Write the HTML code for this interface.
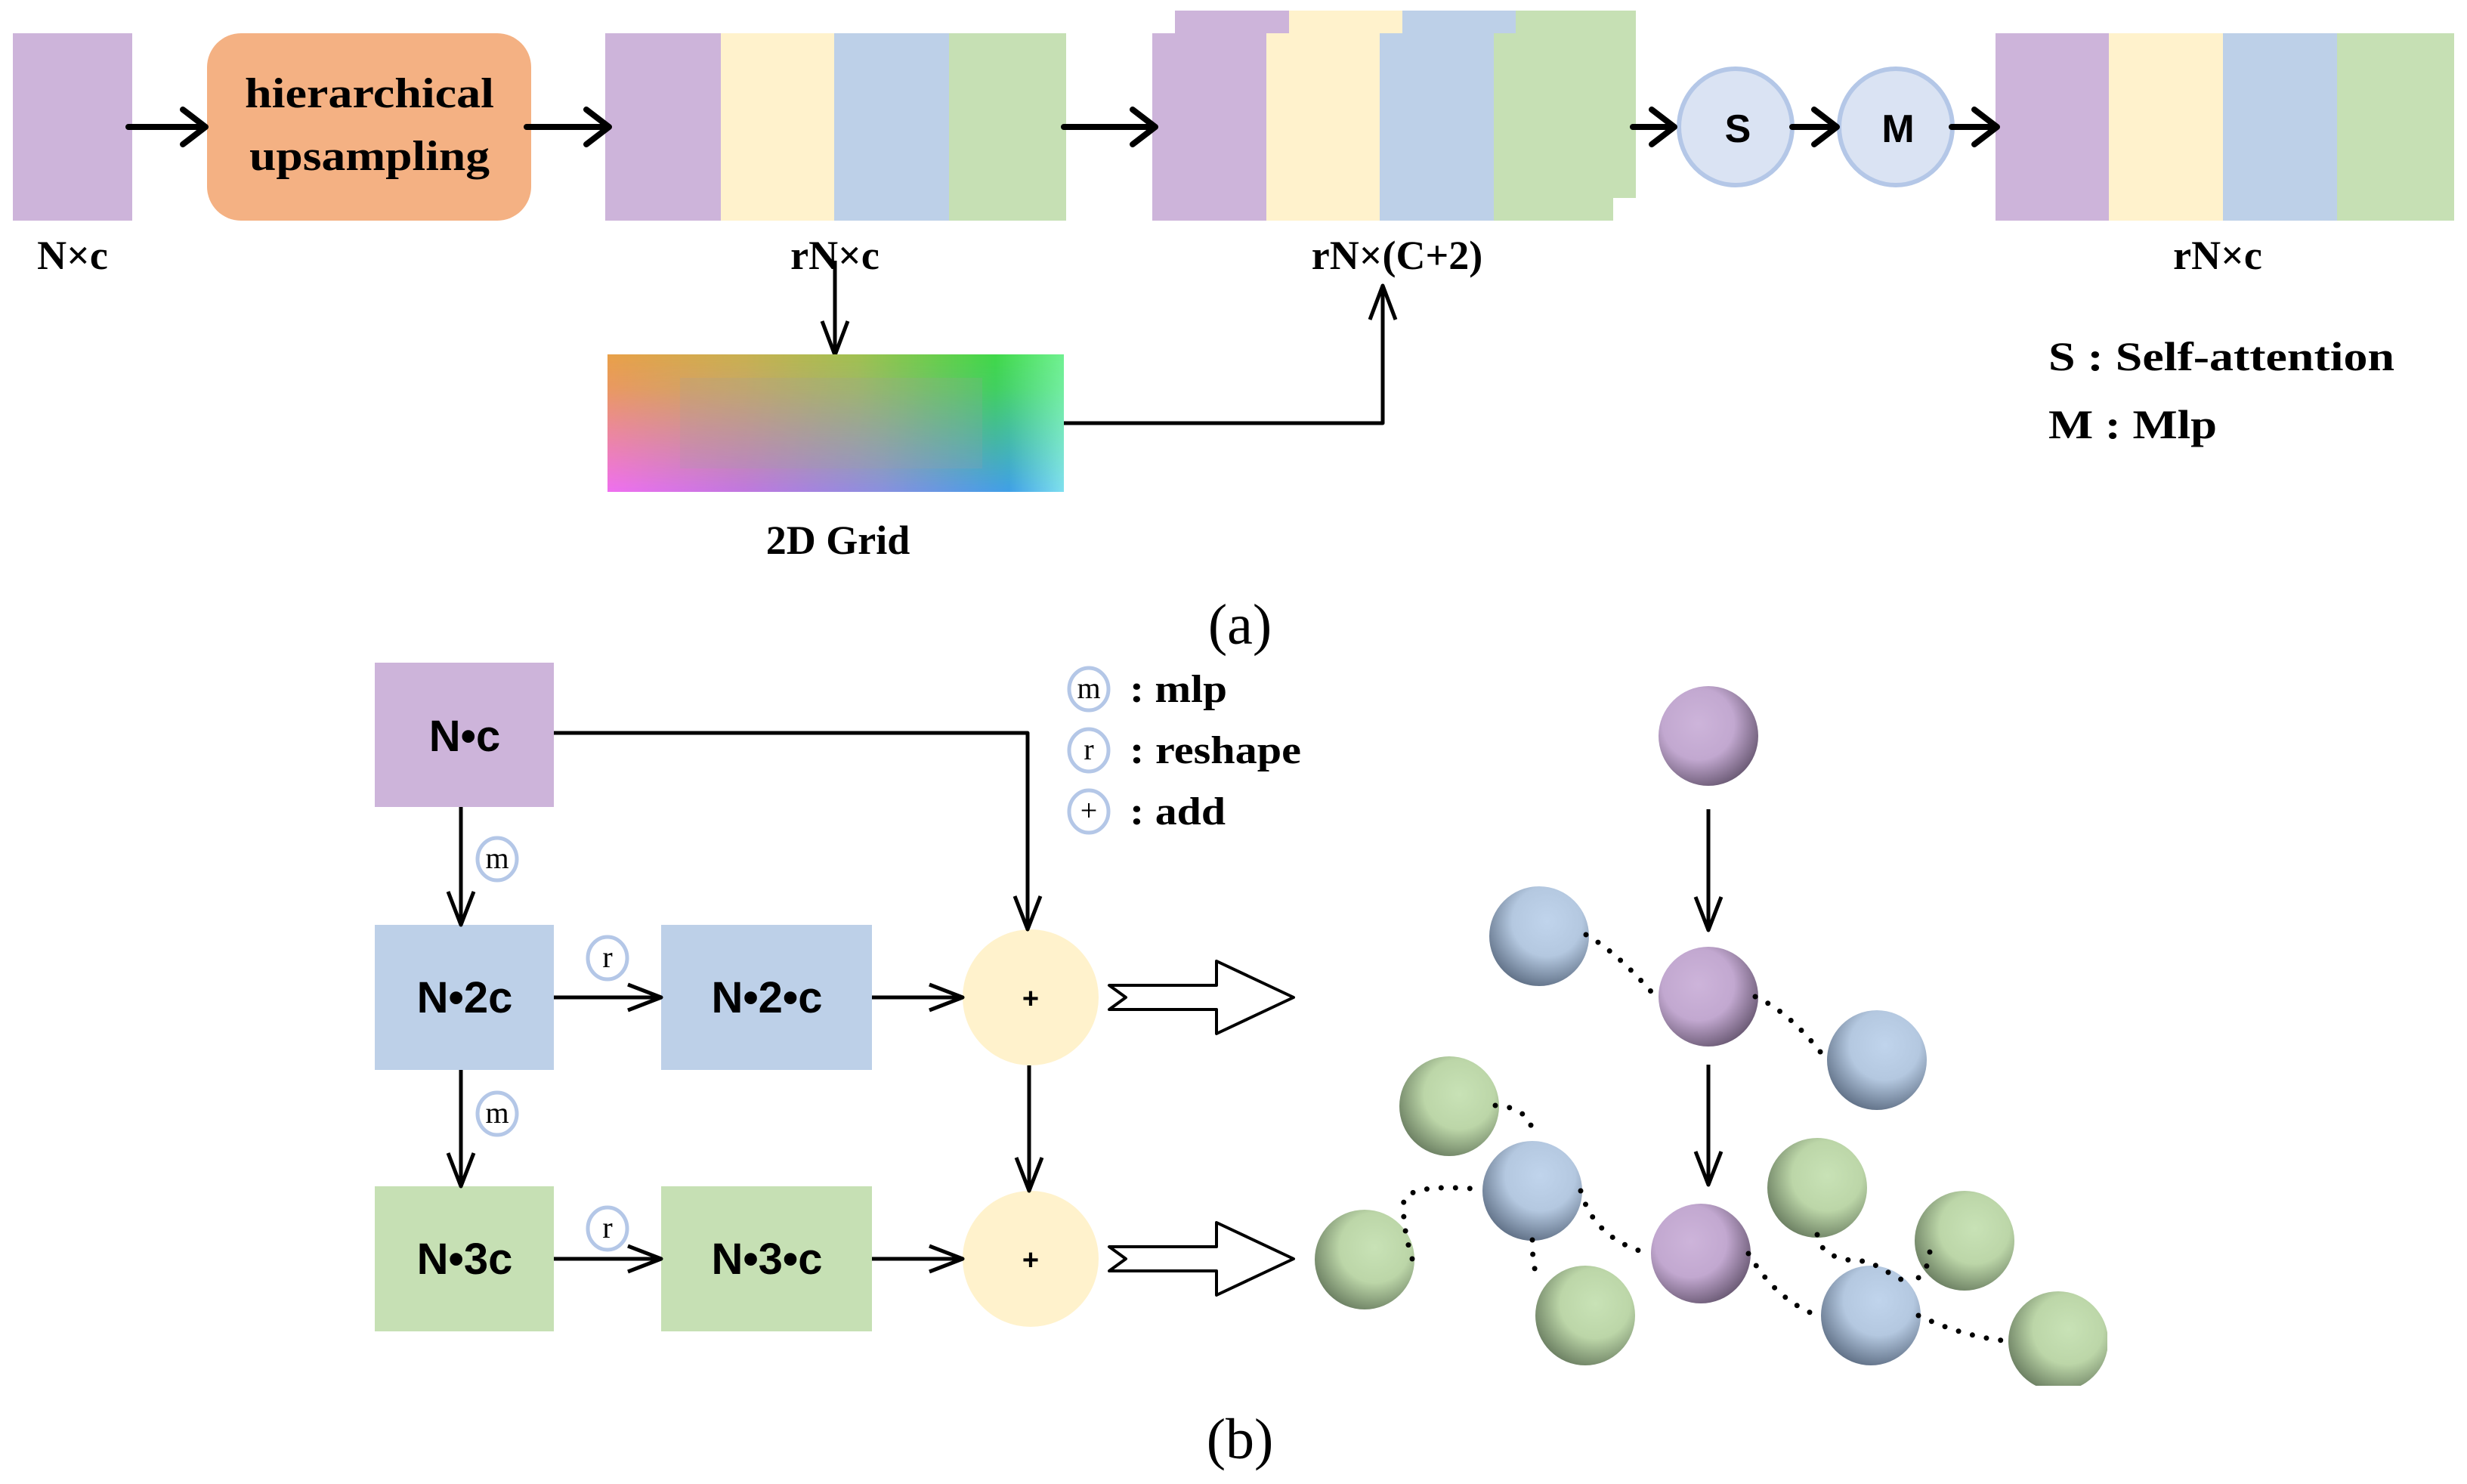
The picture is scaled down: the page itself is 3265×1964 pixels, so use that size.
<!DOCTYPE html>
<html><head><meta charset="utf-8"><style>
html,body{margin:0;padding:0;background:#fff;}
svg{display:block;}
.sb{font-family:"Liberation Serif",serif;font-weight:bold;fill:#000;}
.sr{font-family:"Liberation Serif",serif;fill:#000;}
.ss{font-family:"Liberation Sans",sans-serif;font-weight:bold;fill:#000;}
</style></head><body>
<svg width="3265" height="1964" viewBox="0 0 3265 1964" xmlns="http://www.w3.org/2000/svg">
<defs>
<linearGradient id="gtop" x1="0" x2="1" y1="0" y2="0">
<stop offset="0" stop-color="#e8a048"/><stop offset="0.3" stop-color="#c8b050"/><stop offset="0.55" stop-color="#a0c050"/><stop offset="0.85" stop-color="#40d848"/><stop offset="1" stop-color="#70f090"/></linearGradient>
<linearGradient id="gbot" x1="0" x2="1" y1="0" y2="0">
<stop offset="0" stop-color="#f070f0"/><stop offset="0.3" stop-color="#c078e0"/><stop offset="0.6" stop-color="#8a90e0"/><stop offset="0.88" stop-color="#40a0e8"/><stop offset="1" stop-color="#80e0f0"/></linearGradient>
<linearGradient id="vfade" x1="0" x2="0" y1="0" y2="1"><stop offset="0" stop-color="#fff"/><stop offset="0.25" stop-color="#fff" stop-opacity="0.85"/><stop offset="1" stop-color="#fff" stop-opacity="0"/></linearGradient>
<mask id="mfade"><rect x="804" y="469" width="604" height="182" fill="url(#vfade)"/></mask>
<radialGradient id="sp" cx="0.4" cy="0.38" r="0.65"><stop offset="0" stop-color="#cdb4da"/><stop offset="0.55" stop-color="#c2a8d0"/><stop offset="1" stop-color="#6e5d78"/></radialGradient>
<radialGradient id="sb" cx="0.58" cy="0.35" r="0.7"><stop offset="0" stop-color="#c0d4ec"/><stop offset="0.5" stop-color="#b4c8e0"/><stop offset="1" stop-color="#5a6a80"/></radialGradient>
<radialGradient id="sg" cx="0.6" cy="0.38" r="0.7"><stop offset="0" stop-color="#c8e2b6"/><stop offset="0.5" stop-color="#bcd6a8"/><stop offset="1" stop-color="#62755a"/></radialGradient>
<clipPath id="clipR"><rect x="0" y="0" width="2789" height="1834"/></clipPath>
</defs>

<rect x="17" y="44" width="158" height="248" fill="#cdb4da"/>
<rect x="274" y="44" width="429" height="248" rx="45" fill="#f4b183"/>
<text class="sb" x="489" y="142" font-size="56" text-anchor="middle" textLength="330" lengthAdjust="spacingAndGlyphs">hierarchical</text>
<text class="sb" x="489" y="225" font-size="56" text-anchor="middle" textLength="318" lengthAdjust="spacingAndGlyphs">upsampling</text>

<rect x="801" y="44" width="153" height="248" fill="#cdb4da"/>
<rect x="954" y="44" width="150" height="248" fill="#fff2cc"/>
<rect x="1104" y="44" width="152" height="248" fill="#bdd0e8"/>
<rect x="1256" y="44" width="155" height="248" fill="#c6e0b4"/>

<rect x="1555" y="14" width="152" height="248" fill="#cdb4da"/>
<rect x="1706" y="14" width="151" height="248" fill="#fff2cc"/>
<rect x="1856" y="14" width="151" height="248" fill="#bdd0e8"/>
<rect x="2006" y="14" width="159" height="248" fill="#c6e0b4"/>
<rect x="1525" y="44" width="152" height="248" fill="#cdb4da"/>
<rect x="1676" y="44" width="151" height="248" fill="#fff2cc"/>
<rect x="1826" y="44" width="151" height="248" fill="#bdd0e8"/>
<rect x="1977" y="44" width="158" height="248" fill="#c6e0b4"/>

<ellipse cx="2297" cy="168" rx="75" ry="77" fill="#dae3f3" stroke="#b4c7e7" stroke-width="6"/>
<ellipse cx="2509" cy="168" rx="75" ry="77" fill="#dae3f3" stroke="#b4c7e7" stroke-width="6"/>
<text class="ss" x="2300" y="188" font-size="52" text-anchor="middle">S</text>
<text class="ss" x="2512" y="188" font-size="52" text-anchor="middle">M</text>

<rect x="2641" y="44" width="150" height="248" fill="#cdb4da"/>
<rect x="2791" y="44" width="151" height="248" fill="#fff2cc"/>
<rect x="2942" y="44" width="151" height="248" fill="#bdd0e8"/>
<rect x="3093" y="44" width="155" height="248" fill="#c6e0b4"/>

<g stroke="#000" stroke-width="8" fill="none" stroke-linecap="round" stroke-linejoin="round">
<path d="M170,168 H272 M242,145 L272,168 L242,191"/>
<path d="M697,168 H806 M776,145 L806,168 L776,191"/>
<path d="M1408,168 H1529 M1499,145 L1529,168 L1499,191"/>
<path d="M2161,168 H2216 M2186,145 L2216,168 L2186,191"/>
<path d="M2372,168 H2431 M2401,145 L2431,168 L2401,191"/>
<path d="M2583,168 H2643 M2613,145 L2643,168 L2613,191"/>
</g>
<g stroke="#000" stroke-width="5" fill="none" stroke-linejoin="round">
<path d="M1105,345 V468 M1088,425 L1105,470 L1122,425"/>
<path d="M1408,560 H1830 V380 M1813,423 L1830,378 L1847,423"/>
</g>

<rect x="804" y="469" width="604" height="182" fill="url(#gbot)"/>
<rect x="804" y="469" width="604" height="182" fill="url(#gtop)" mask="url(#mfade)"/>
<rect x="900" y="500" width="400" height="120" fill="#a0a0a0" opacity="0.18"/>

<text class="sb" x="96" y="356" font-size="54" text-anchor="middle">N×c</text>
<text class="sb" x="1105" y="356" font-size="54" text-anchor="middle">rN×c</text>
<text class="sb" x="1849" y="356" font-size="54" text-anchor="middle">rN×(C+2)</text>
<text class="sb" x="2935" y="356" font-size="54" text-anchor="middle">rN×c</text>
<text class="sb" x="1109" y="733" font-size="54" text-anchor="middle">2D Grid</text>
<text class="sb" x="2711" y="490" font-size="54" textLength="458" lengthAdjust="spacingAndGlyphs">S : Self-attention</text>
<text class="sb" x="2711" y="580" font-size="54" textLength="223" lengthAdjust="spacingAndGlyphs">M : Mlp</text>
<text class="sr" x="1641" y="852" font-size="76" text-anchor="middle">(a)</text>

<rect x="496" y="877" width="237" height="191" fill="#cdb4da"/>
<rect x="496" y="1224" width="237" height="192" fill="#bdd0e8"/>
<rect x="875" y="1224" width="279" height="192" fill="#bdd0e8"/>
<rect x="496" y="1570" width="237" height="192" fill="#c6e0b4"/>
<rect x="875" y="1570" width="279" height="192" fill="#c6e0b4"/>
<circle cx="1364" cy="1320" r="90" fill="#fff2cc"/>
<circle cx="1364" cy="1666" r="90" fill="#fff2cc"/>
<text class="ss" x="1364" y="1334" font-size="38" text-anchor="middle">+</text>
<text class="ss" x="1364" y="1680" font-size="38" text-anchor="middle">+</text>

<text class="ss" x="615" y="994" font-size="58" text-anchor="middle">N•c</text>
<text class="ss" x="615" y="1340" font-size="58" text-anchor="middle">N•2c</text>
<text class="ss" x="1015" y="1340" font-size="58" text-anchor="middle">N•2•c</text>
<text class="ss" x="615" y="1686" font-size="58" text-anchor="middle">N•3c</text>
<text class="ss" x="1015" y="1686" font-size="58" text-anchor="middle">N•3•c</text>

<g stroke="#000" stroke-width="5" fill="none" stroke-linejoin="round">
<path d="M610,1068 V1222 M593,1180 L610,1224 L627,1180"/>
<path d="M610,1416 V1568 M593,1526 L610,1570 L627,1526"/>
<path d="M733,1320 H873 M831,1303 L875,1320 L831,1337"/>
<path d="M733,1666 H873 M831,1649 L875,1666 L831,1683"/>
<path d="M1154,1320 H1272 M1230,1303 L1274,1320 L1230,1337"/>
<path d="M1154,1666 H1272 M1230,1649 L1274,1666 L1230,1683"/>
<path d="M733,970 H1360 V1228 M1343,1186 L1360,1230 L1377,1186"/>
<path d="M1362,1410 V1574 M1345,1532 L1362,1576 L1379,1532"/>
<path d="M1468,1304 H1610 V1272 L1712,1320 L1610,1368 V1336 H1468 L1490,1320 Z" stroke-width="4"/>
<path d="M1468,1650 H1610 V1618 L1712,1666 L1610,1714 V1682 H1468 L1490,1666 Z" stroke-width="4"/>
</g>

<g fill="#fff" stroke="#b4c7e7" stroke-width="5">
<ellipse cx="658" cy="1137" rx="26" ry="28"/>
<ellipse cx="658" cy="1474" rx="26" ry="28"/>
<ellipse cx="804" cy="1268" rx="26" ry="28"/>
<ellipse cx="804" cy="1626" rx="26" ry="28"/>
<ellipse cx="1441" cy="912" rx="26" ry="28"/>
<ellipse cx="1441" cy="993" rx="26" ry="28"/>
<ellipse cx="1441" cy="1074" rx="26" ry="28"/>
</g>
<g class="sr" font-size="40" text-anchor="middle">
<text x="658" y="1149">m</text><text x="658" y="1486">m</text>
<text x="804" y="1280">r</text><text x="804" y="1638">r</text>
<text x="1441" y="924">m</text><text x="1441" y="1005">r</text><text x="1441" y="1086">+</text>
</g>
<text class="sb" x="1495" y="929" font-size="52" textLength="129" lengthAdjust="spacingAndGlyphs">: mlp</text>
<text class="sb" x="1495" y="1010" font-size="52" textLength="227" lengthAdjust="spacingAndGlyphs">: reshape</text>
<text class="sb" x="1495" y="1091" font-size="52" textLength="127" lengthAdjust="spacingAndGlyphs">: add</text>
<text class="sr" x="1641" y="1930" font-size="76" text-anchor="middle">(b)</text>

<g clip-path="url(#clipR)">
<circle cx="2261" cy="974" r="66" fill="url(#sp)"/>
<circle cx="2037" cy="1239" r="66" fill="url(#sb)"/>
<circle cx="2261" cy="1319" r="66" fill="url(#sp)"/>
<circle cx="2484" cy="1403" r="66" fill="url(#sb)"/>
<circle cx="1918" cy="1464" r="66" fill="url(#sg)"/>
<circle cx="2028" cy="1576" r="66" fill="url(#sb)"/>
<circle cx="1806" cy="1667" r="66" fill="url(#sg)"/>
<circle cx="2098" cy="1741" r="66" fill="url(#sg)"/>
<circle cx="2251" cy="1659" r="66" fill="url(#sp)"/>
<circle cx="2405" cy="1572" r="66" fill="url(#sg)"/>
<circle cx="2600" cy="1642" r="66" fill="url(#sg)"/>
<circle cx="2476" cy="1741" r="66" fill="url(#sb)"/>
<circle cx="2724" cy="1775" r="66" fill="url(#sg)"/>
</g>
<g stroke="#000" stroke-width="5" fill="none" stroke-linejoin="round">
<path d="M2261,1071 V1229 M2244,1187 L2261,1231 L2278,1187"/>
<path d="M2261,1409 V1566 M2244,1524 L2261,1568 L2278,1524"/>
</g>
<g stroke="#000" stroke-width="7" fill="none" stroke-linecap="round" stroke-dasharray="0 19">
<path d="M2099,1237 Q2140,1260 2191,1319"/>
<path d="M2323,1319 Q2370,1340 2416,1401"/>
<path d="M1979,1463 Q2020,1465 2028,1495"/>
<path d="M1869,1666 Q1855,1620 1858,1588 Q1870,1566 1960,1574"/>
<path d="M2028,1641 Q2028,1680 2037,1696"/>
<path d="M2092,1576 Q2110,1640 2182,1659"/>
<path d="M2314,1659 Q2350,1720 2405,1741"/>
<path d="M2405,1634 Q2410,1670 2472,1669 L2521,1696"/>
<path d="M2554,1657 Q2552,1680 2539,1691"/>
<path d="M2539,1741 Q2600,1770 2660,1775"/>
</g>
</svg>
</body></html>
